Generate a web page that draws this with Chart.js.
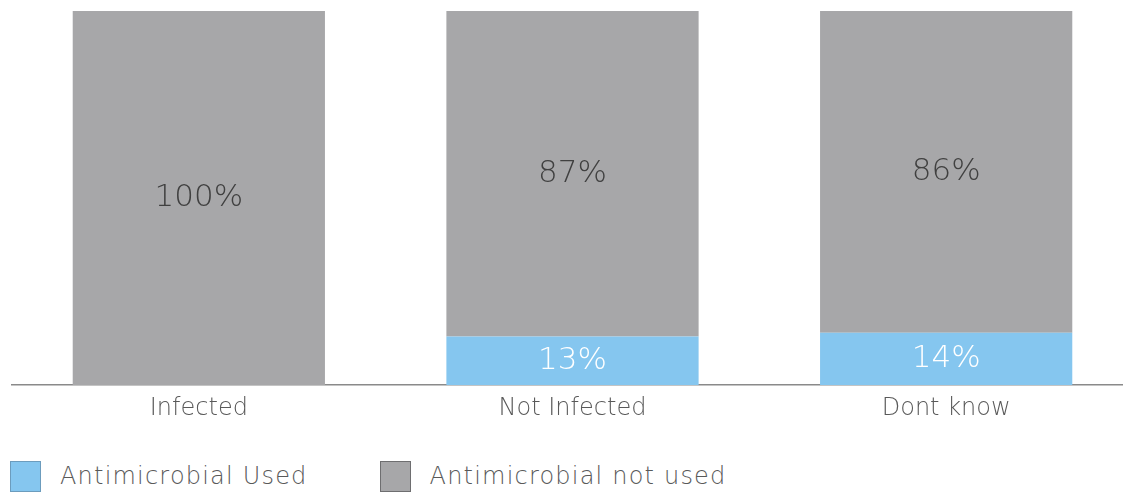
<!DOCTYPE html>
<html>
<head>
<meta charset="utf-8">
<script src="https://cdn.jsdelivr.net/npm/chart.js@4"></script>
<style>
  html, body { margin: 0; padding: 0; background: #fff; overflow: hidden; }
  #wrap { width: 1133px; height: 440px; }
  #legend { position: absolute; left: 10px; top: 461px; display: flex; font-family: 'DejaVu Sans', Verdana, sans-serif; font-weight: 200; font-size: 24px; letter-spacing: 1.2px; color: #595959; }
  #legend .item { display: flex; align-items: center; height: 30px; }
  #legend .box { width: 31px; height: 31px; box-sizing: border-box; border: 1.5px solid; margin-right: 19px; }
</style>
</head>
<body>
<div id="wrap"><canvas id="chart"></canvas></div>
<div id="legend"></div>
<script>
// data
const categories = ["Infected", "Not Infected", "Dont know"];
const usedValues = [0, 13, 14];
const notUsedValues = [100, 87, 86];
const seriesNames = ["Antimicrobial Used", "Antimicrobial not used"];

const FONT = "'DejaVu Sans', Verdana, sans-serif";

// draws the percent labels in the middle of each bar segment
const barLabels = {
  id: "barLabels",
  afterDatasetsDraw(chart) {
    const ctx = chart.ctx;
    ctx.save();
    ctx.font = "200 31px " + FONT;
    ctx.textAlign = "center";
    ctx.textBaseline = "middle";
    chart.data.datasets.forEach((ds, di) => {
      const meta = chart.getDatasetMeta(di);
      meta.data.forEach((bar, i) => {
        const v = ds.data[i];
        if (!v) return;
        const p = bar.getCenterPoint();
        ctx.fillStyle = di === 0 ? "#ffffff" : "#404040";
        ctx.fillText(v + "%", p.x, p.y);
      });
    });
    ctx.restore();
  }
};

const spacing = {
  id: "spacing",
  beforeInit(chart) { chart.ctx.letterSpacing = "1.5px"; }
};

const chart = new Chart(document.getElementById("chart"), {
  type: "bar",
  data: {
    labels: categories,
    datasets: [
      {
        label: seriesNames[0],
        data: usedValues,
        backgroundColor: "#85C6EF",
        borderColor: "#6C9CBD",
        borderWidth: 0
      },
      {
        label: seriesNames[1],
        data: notUsedValues,
        backgroundColor: "#A7A7A9",
        borderColor: "#6E6E70",
        borderWidth: 0
      }
    ]
  },
  options: {
    responsive: true,
    maintainAspectRatio: false,
    animation: false,
    layout: { padding: { left: 12, top: 11, right: 0, bottom: 0 } },
    datasets: { bar: { categoryPercentage: 1, barPercentage: 0.675 } },
    scales: {
      x: {
        stacked: true,
        grid: { display: false },
        border: { display: true, color: "#8a8a8a", width: 1.5 },
        ticks: { color: "#595959", font: { family: FONT, size: 24, weight: 200 }, padding: 1 },
        afterFit(scale) { scale.height = 55; }
      },
      y: {
        stacked: true,
        display: false,
        min: 0,
        max: 100
      }
    },
    plugins: {
      tooltip: { enabled: false },
      legend: { display: false }
    }
  },
  plugins: [barLabels, spacing]
});

// html legend built from the chart's datasets
const legendEl = document.getElementById("legend");
chart.data.datasets.forEach((ds, i) => {
  const item = document.createElement("div");
  item.className = "item";
  if (i > 0) item.style.marginLeft = "72px";
  const box = document.createElement("span");
  box.className = "box";
  box.style.background = ds.backgroundColor;
  box.style.borderColor = ds.borderColor;
  const txt = document.createElement("span");
  txt.textContent = ds.label;
  item.appendChild(box);
  item.appendChild(txt);
  legendEl.appendChild(item);
});
</script>
</body>
</html>
